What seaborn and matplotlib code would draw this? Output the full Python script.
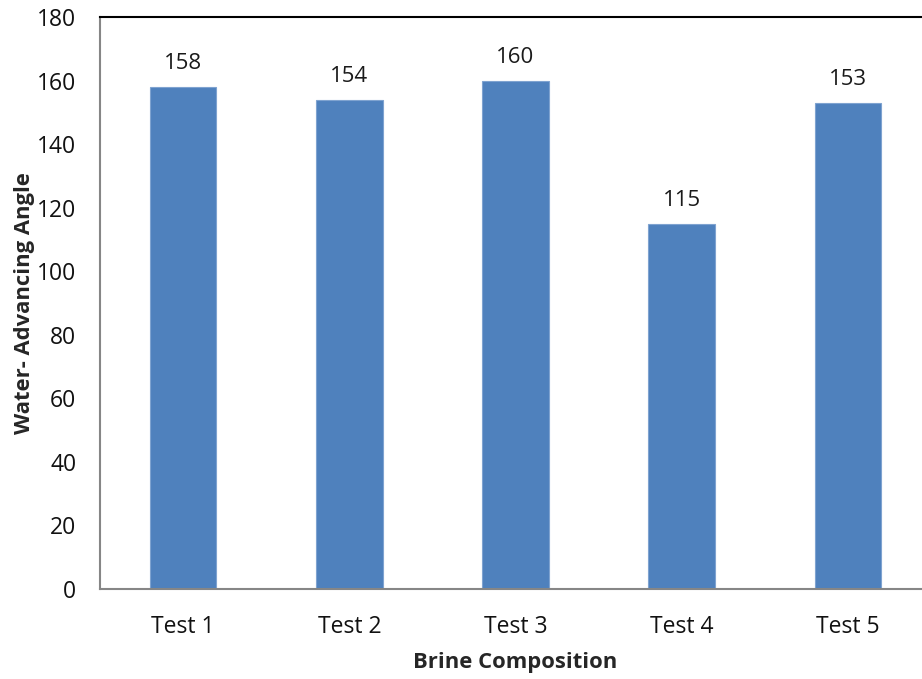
import numpy as np
import matplotlib.pyplot as plt
import seaborn as sns
import pandas as pd

# Données du graphique
tests = ['Test 1', 'Test 2', 'Test 3', 'Test 4', 'Test 5']
angles = [158, 154, 160, 115, 153]
y_ticks = [0, 20, 40, 60, 80, 100, 120, 140, 160, 180]

df = pd.DataFrame({'test': tests, 'angle': angles})

sns.set_style('white')
plt.rcParams['font.family'] = ['Open Sans', 'DejaVu Sans']

fig = plt.figure(figsize=(9.22, 6.79), dpi=100)
ax = fig.add_axes([0.1085, 0.1325, 0.9013, 0.8425])

sns.barplot(data=df, x='test', y='angle', color='#4F81BD', saturation=1,
            width=0.4, edgecolor='#7FA3D0', linewidth=0.8, ax=ax)

# Étiquettes de valeurs
ax.bar_label(ax.containers[0], fmt='%d', padding=9, fontsize=16, color='#1a1a1a')

ax.set_ylim(0, 180)
ax.set_yticks(y_ticks)
ax.set_xlim(-0.5, 4.5)
ax.set_xticks(range(len(tests)))
ax.set_xticklabels(tests)

# Petites graduations entre catégories
ax.set_xticks(np.arange(-0.5, 5.0, 1.0), minor=True)
ax.tick_params(axis='x', which='major', length=0, pad=19, labelsize=16.5)
ax.tick_params(axis='x', which='minor', length=6, width=1.2, color='#868686', direction='out')
ax.tick_params(axis='y', length=7, width=1.2, color='#868686', direction='out', pad=10, labelsize=16.5)
for lbl in ax.get_xticklabels() + ax.get_yticklabels():
    lbl.set_color('#111111')

for side in ['left', 'bottom']:
    ax.spines[side].set_color('#868686')
    ax.spines[side].set_linewidth(1.5)
ax.spines['top'].set_color('black')
ax.spines['top'].set_linewidth(1.5)
ax.spines['right'].set_visible(False)

ax.set_xlabel('Brine Composition', fontsize=15.8, fontweight='bold')
ax.set_ylabel('Water- Advancing Angle', fontsize=15.8, fontweight='bold')
ax.xaxis.label.set_va('center')
ax.yaxis.label.set_va('center')
ax.xaxis.set_label_coords(0.5, -0.128)
ax.yaxis.set_label_coords(-0.0915, 0.5)

fig.savefig('out.png', dpi=100)
